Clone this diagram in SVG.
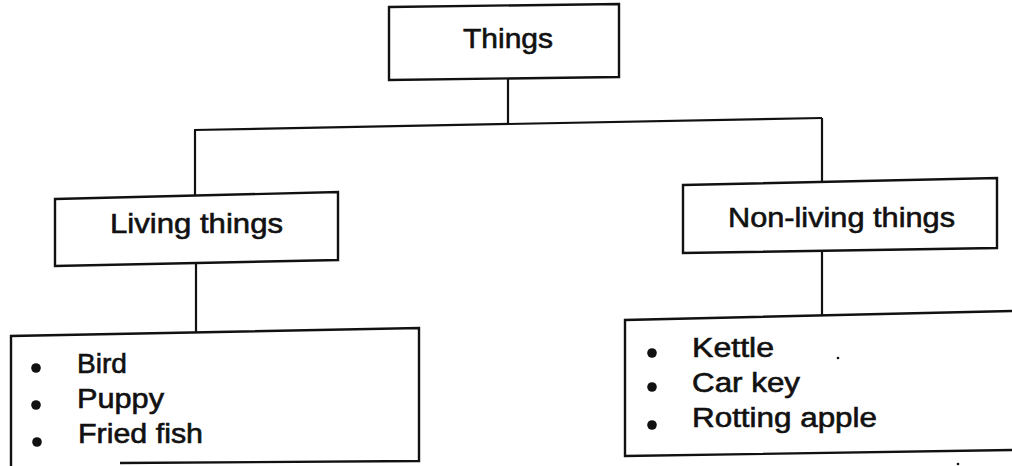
<svg xmlns="http://www.w3.org/2000/svg" width="1012" height="466" viewBox="0 0 1012 466">
<style>
.box{fill:#fff;stroke:#111;stroke-width:2.4;stroke-linejoin:miter}
.ln{fill:none;stroke:#111;stroke-width:2.2}
.t{font-family:"Liberation Sans",Arial,sans-serif;font-size:28px;fill:#111;stroke:#111;stroke-width:0.6}
.li{font-family:"Liberation Sans",Arial,sans-serif;font-size:27px;fill:#111;stroke:#111;stroke-width:0.6}
.b{fill:#111}
</style>
<rect width="1012" height="466" fill="#fff"/>
<g id="connectors">
<path class="ln" d="M508,79 L508,124"/>
<path class="ln" d="M194,130 L822,118"/>
<path class="ln" d="M195,130 L195,196"/>
<path class="ln" d="M822,118 L822,182"/>
<path class="ln" d="M196,263 L196,333"/>
<path class="ln" d="M822,251 L822,315"/>
</g>
<g id="things">
<polygon class="box" points="389,7 619,4 619,77 389,80"/>
<text class="t" x="463" y="48" textLength="90" lengthAdjust="spacingAndGlyphs">Things</text>
</g>
<g id="living">
<polygon class="box" points="55,199 338,192 338,260 55,266"/>
<text class="t" x="110" y="233" textLength="173" lengthAdjust="spacingAndGlyphs">Living things</text>
</g>
<g id="nonliving">
<polygon class="box" points="683,185 997,178 997,248 683,253"/>
<text class="t" x="728" y="227" textLength="227" lengthAdjust="spacingAndGlyphs">Non-living things</text>
</g>
<g id="living-list">
<path class="box" d="M11,466 L11,336 L419,328 L419,461 L120,463"/>
<circle class="b" cx="36" cy="368" r="4.8"/>
<circle class="b" cx="36" cy="405" r="4.8"/>
<circle class="b" cx="37" cy="442" r="4.8"/>
<text class="li" x="77" y="373" textLength="50" lengthAdjust="spacingAndGlyphs">Bird</text>
<text class="li" x="77" y="408" textLength="87" lengthAdjust="spacingAndGlyphs">Puppy</text>
<text class="li" x="78" y="443" textLength="125" lengthAdjust="spacingAndGlyphs">Fried fish</text>
</g>
<g id="nonliving-list">
<path class="box" d="M1012,311 L625,320 L625,456 L1012,450"/>
<circle class="b" cx="652" cy="353" r="4.8"/>
<circle class="b" cx="652" cy="387" r="4.8"/>
<circle class="b" cx="652" cy="425" r="4.8"/>
<text class="li" x="692" y="357" textLength="82" lengthAdjust="spacingAndGlyphs">Kettle</text>
<text class="li" x="692" y="392" textLength="108" lengthAdjust="spacingAndGlyphs">Car key</text>
<text class="li" x="692" y="427" textLength="185" lengthAdjust="spacingAndGlyphs">Rotting apple</text>
<circle class="b" cx="838" cy="358" r="1.3"/>
<circle class="b" cx="958" cy="464" r="1.3"/>
</g>
</svg>
